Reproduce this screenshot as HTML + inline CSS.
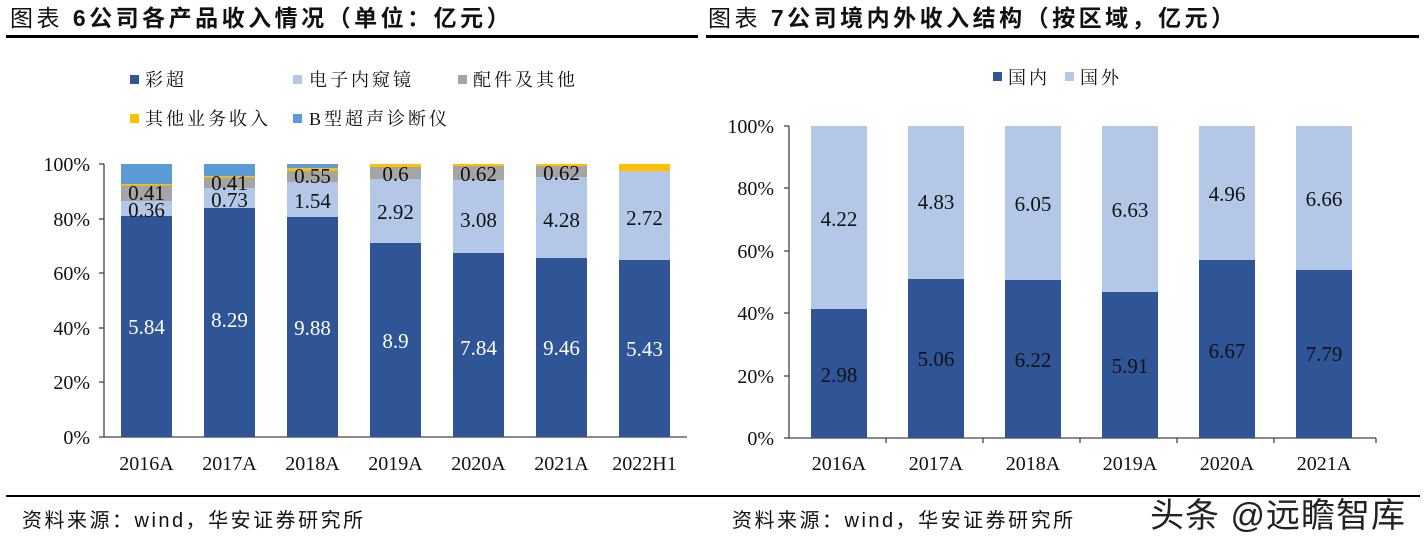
<!DOCTYPE html>
<html><head><meta charset="utf-8"><style>
body{margin:0;background:#fff;}
svg{display:block;}
.t{font-family:"Liberation Serif","Noto Serif CJK SC",serif;}
.h{font-family:"Liberation Sans","Noto Sans CJK SC",sans-serif;}
</style></head><body>
<svg width="1427" height="543" viewBox="0 0 1427 543" xmlns="http://www.w3.org/2000/svg">
<rect width="1427" height="543" fill="#fff"/>
<text x="10" y="26" class="h" font-size="23" fill="#111" letter-spacing="3.5">图表 <tspan font-weight="bold">6公司各产品收入情况（单位：亿元）</tspan></text>
<text x="708" y="26" class="h" font-size="23" fill="#111" letter-spacing="3.5">图表 <tspan font-weight="bold">7公司境内外收入结构（按区域，亿元）</tspan></text>
<rect x="6" y="35" width="692" height="3" fill="#000"/>
<rect x="706" y="35" width="713" height="3" fill="#000"/>
<rect x="6" y="495" width="1414" height="2" fill="#000"/>
<text x="22" y="527" class="h" font-size="20" fill="#111" letter-spacing="2.5">资料来源：wind，华安证券研究所</text>
<text x="732" y="527" class="h" font-size="20" fill="#111" letter-spacing="2.5">资料来源：wind，华安证券研究所</text>
<text x="1150" y="527" class="h" font-size="34" fill="#222" letter-spacing="1">头条 @远瞻智库</text>

<g class="t" font-size="18" fill="#111" letter-spacing="3">
<rect x="130" y="75" width="9" height="9" fill="#2F5597"/><text x="145" y="86">彩超</text>
<rect x="293" y="75" width="9" height="9" fill="#B4C7E7"/><text x="309" y="86">电子内窥镜</text>
<rect x="458" y="75" width="9" height="9" fill="#A5A5A5"/><text x="473" y="86">配件及其他</text>
<rect x="130" y="114" width="9" height="9" fill="#FFC000"/><text x="145" y="125">其他业务收入</text>
<rect x="293" y="114" width="9" height="9" fill="#5B9BD5"/><text x="309" y="125">B型超声诊断仪</text>
</g>

<g class="t" font-size="20" fill="#111" text-anchor="end">
<text x="90" y="171">100%</text><text x="90" y="226">80%</text><text x="90" y="280">60%</text>
<text x="90" y="335">40%</text><text x="90" y="389">20%</text><text x="90" y="444">0%</text>
</g>
<g stroke="#444" stroke-width="1.3">
<line x1="104" y1="164" x2="104" y2="437"/>
<line x1="99" y1="164" x2="104" y2="164"/><line x1="99" y1="219" x2="104" y2="219"/>
<line x1="99" y1="273" x2="104" y2="273"/><line x1="99" y1="328" x2="104" y2="328"/>
<line x1="99" y1="382" x2="104" y2="382"/><line x1="99" y1="437" x2="104" y2="437"/>
<line x1="104" y1="437" x2="687" y2="437"/>
</g>
<g>
<rect x="121" y="164" width="51" height="20" fill="#5B9BD5"/><rect x="121" y="184" width="51" height="1.5" fill="#FFC000"/><rect x="121" y="185.5" width="51" height="15.5" fill="#A5A5A5"/><rect x="121" y="201" width="51" height="15" fill="#B4C7E7"/><rect x="121" y="216" width="51" height="221" fill="#2F5597"/>
<rect x="204" y="164" width="51" height="12" fill="#5B9BD5"/><rect x="204" y="176" width="51" height="1.5" fill="#FFC000"/><rect x="204" y="177.5" width="51" height="10.5" fill="#A5A5A5"/><rect x="204" y="188" width="51" height="20" fill="#B4C7E7"/><rect x="204" y="208" width="51" height="229" fill="#2F5597"/>
<rect x="287" y="164" width="51" height="4" fill="#5B9BD5"/><rect x="287" y="168" width="51" height="3" fill="#FFC000"/><rect x="287" y="171" width="51" height="11" fill="#A5A5A5"/><rect x="287" y="182" width="51" height="35" fill="#B4C7E7"/><rect x="287" y="217" width="51" height="220" fill="#2F5597"/>
<rect x="370" y="164" width="51" height="3" fill="#FFC000"/><rect x="370" y="167" width="51" height="12" fill="#A5A5A5"/><rect x="370" y="179" width="51" height="64" fill="#B4C7E7"/><rect x="370" y="243" width="51" height="194" fill="#2F5597"/>
<rect x="453" y="164" width="51" height="2" fill="#FFC000"/><rect x="453" y="166" width="51" height="14" fill="#A5A5A5"/><rect x="453" y="180" width="51" height="73" fill="#B4C7E7"/><rect x="453" y="253" width="51" height="184" fill="#2F5597"/>
<rect x="536" y="164" width="51" height="2" fill="#FFC000"/><rect x="536" y="166" width="51" height="11" fill="#A5A5A5"/><rect x="536" y="177" width="51" height="81" fill="#B4C7E7"/><rect x="536" y="258" width="51" height="179" fill="#2F5597"/>
<rect x="619" y="164" width="51" height="7" fill="#FFC000"/><rect x="619" y="171" width="51" height="89" fill="#B4C7E7"/><rect x="619" y="260" width="51" height="177" fill="#2F5597"/>
</g>
<g class="t" font-size="21" fill="#111" text-anchor="middle" dominant-baseline="central">
<text x="146.5" y="193">0.41</text><text x="146.5" y="210">0.36</text>
<text x="229.5" y="183">0.41</text><text x="229.5" y="200">0.73</text>
<text x="312.5" y="176">0.55</text><text x="312.5" y="201">1.54</text>
<text x="395.5" y="174">0.6</text><text x="395.5" y="212">2.92</text>
<text x="478.5" y="174">0.62</text><text x="478.5" y="220">3.08</text>
<text x="561.5" y="173">0.62</text><text x="561.5" y="220">4.28</text>
<text x="644.5" y="218">2.72</text>
</g>
<g class="t" font-size="21" fill="#fff" text-anchor="middle" dominant-baseline="central">
<text x="146.5" y="327">5.84</text><text x="229.5" y="320">8.29</text><text x="312.5" y="328">9.88</text>
<text x="395.5" y="341">8.9</text><text x="478.5" y="348">7.84</text><text x="561.5" y="348">9.46</text><text x="644.5" y="349">5.43</text>
</g>
<g class="t" font-size="20" fill="#111" text-anchor="middle">
<text x="146.5" y="470">2016A</text><text x="229.5" y="470">2017A</text><text x="312.5" y="470">2018A</text>
<text x="395.5" y="470">2019A</text><text x="478.5" y="470">2020A</text><text x="561.5" y="470">2021A</text><text x="644.5" y="470">2022H1</text>
</g>

<g class="t" font-size="18" fill="#111" letter-spacing="3">
<rect x="993" y="72" width="9" height="9" fill="#2F5597"/><text x="1008" y="84">国内</text>
<rect x="1065" y="72" width="9" height="9" fill="#B4C7E7"/><text x="1080" y="84">国外</text>
</g>
<g class="t" font-size="20" fill="#111" text-anchor="end">
<text x="774" y="133">100%</text><text x="774" y="195">80%</text><text x="774" y="258">60%</text>
<text x="774" y="320">40%</text><text x="774" y="383">20%</text><text x="774" y="445">0%</text>
</g>
<g stroke="#444" stroke-width="1.3">
<line x1="789" y1="126" x2="789" y2="438"/>
<line x1="784" y1="126" x2="789" y2="126"/><line x1="784" y1="188" x2="789" y2="188"/>
<line x1="784" y1="251" x2="789" y2="251"/><line x1="784" y1="313" x2="789" y2="313"/>
<line x1="784" y1="376" x2="789" y2="376"/><line x1="784" y1="438" x2="789" y2="438"/>
<line x1="789" y1="438" x2="1376" y2="438"/>
<line x1="886" y1="438" x2="886" y2="443"/><line x1="983" y1="438" x2="983" y2="443"/>
<line x1="1080" y1="438" x2="1080" y2="443"/><line x1="1177" y1="438" x2="1177" y2="443"/>
<line x1="1274" y1="438" x2="1274" y2="443"/><line x1="1376" y1="438" x2="1376" y2="443"/>
</g>
<g>
<rect x="811" y="126" width="56" height="183" fill="#B4C7E7"/><rect x="811" y="309" width="56" height="129" fill="#2F5597"/>
<rect x="908" y="126" width="56" height="153" fill="#B4C7E7"/><rect x="908" y="279" width="56" height="159" fill="#2F5597"/>
<rect x="1005" y="126" width="56" height="154" fill="#B4C7E7"/><rect x="1005" y="280" width="56" height="158" fill="#2F5597"/>
<rect x="1102" y="126" width="56" height="166" fill="#B4C7E7"/><rect x="1102" y="292" width="56" height="146" fill="#2F5597"/>
<rect x="1199" y="126" width="56" height="134" fill="#B4C7E7"/><rect x="1199" y="260" width="56" height="178" fill="#2F5597"/>
<rect x="1296" y="126" width="56" height="144" fill="#B4C7E7"/><rect x="1296" y="270" width="56" height="168" fill="#2F5597"/>
</g>
<g class="t" font-size="21" fill="#111" text-anchor="middle" dominant-baseline="central">
<text x="839" y="219">4.22</text><text x="936" y="202">4.83</text><text x="1033" y="204">6.05</text>
<text x="1130" y="210">6.63</text><text x="1227" y="194">4.96</text><text x="1324" y="199">6.66</text>
<text x="839" y="375">2.98</text><text x="936" y="359">5.06</text><text x="1033" y="360">6.22</text>
<text x="1130" y="366">5.91</text><text x="1227" y="351">6.67</text><text x="1324" y="354">7.79</text>
</g>
<g class="t" font-size="20" fill="#111" text-anchor="middle">
<text x="839" y="470">2016A</text><text x="936" y="470">2017A</text><text x="1033" y="470">2018A</text>
<text x="1130" y="470">2019A</text><text x="1227" y="470">2020A</text><text x="1324" y="470">2021A</text>
</g>
</svg>
</body></html>
